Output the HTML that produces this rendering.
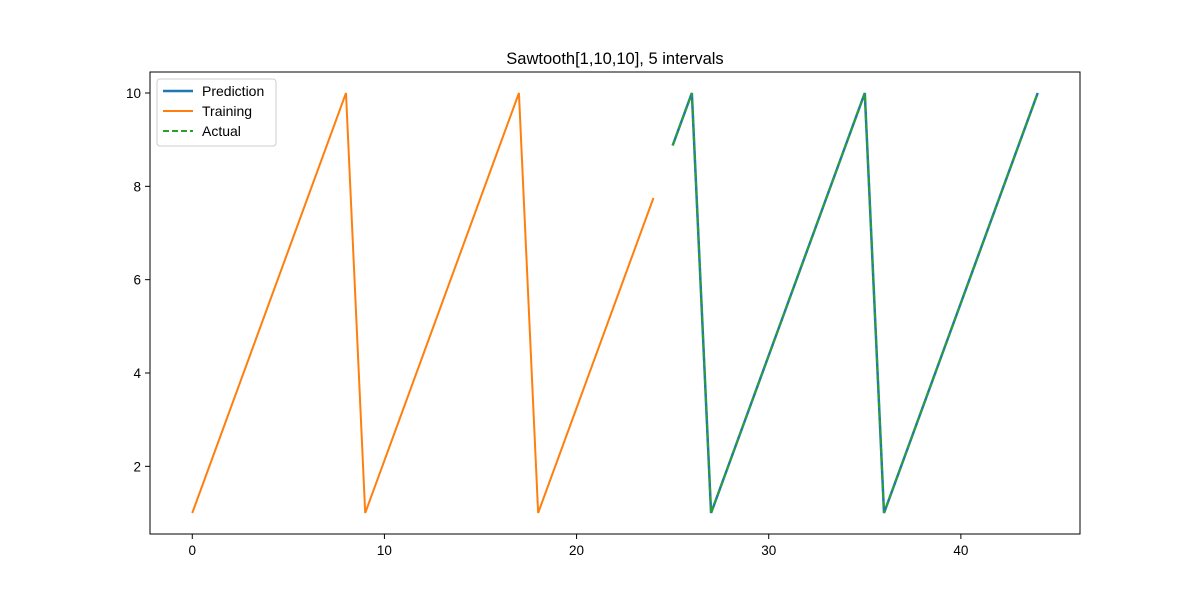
<!DOCTYPE html>
<html><head><meta charset="utf-8"><style>body{margin:0;background:#fff}svg{display:block;font-family:"Liberation Sans","DejaVu Sans",sans-serif}</style></head>
<body>
<svg id="chart" width="1200" height="600">
<rect width="1200" height="600" fill="#fff"/>
<text x="615" y="64" font-size="16.5" text-anchor="middle">Sawtooth[1,10,10], 5 intervals</text>
<g id="marks"></g>
<rect x="150" y="72" width="930" height="462" fill="none" stroke="#000" stroke-width="1"/>
<g id="ticks"></g>
<g>
<rect x="157" y="79" width="119" height="67" rx="3" fill="#fff" fill-opacity="0.8" stroke="#ccc"/>
<line x1="163" y1="91" x2="193" y2="91" stroke="#1f77b4" stroke-width="2.5"/>
<text x="202" y="96" font-size="14">Prediction</text>
<line x1="163" y1="111" x2="193" y2="111" stroke="#ff7f0e" stroke-width="2"/>
<text x="202" y="116" font-size="14">Training</text>
<line x1="163" y1="131" x2="193" y2="131" stroke="#2ca02c" stroke-width="2" stroke-dasharray="6,3"/>
<text x="202" y="136" font-size="14">Actual</text>
</g>
</svg>
<script>
const trainX=[0,1,2,3,4,5,6,7,8,9,10,11,12,13,14,15,16,17,18,19,20,21,22,23,24];
const trainY=[1,2.125,3.25,4.375,5.5,6.625,7.75,8.875,10,1,2.125,3.25,4.375,5.5,6.625,7.75,8.875,10,1,2.125,3.25,4.375,5.5,6.625,7.75];
const testX=[25,26,27,28,29,30,31,32,33,34,35,36,37,38,39,40,41,42,43,44];
const predY=[8.875,10,1,2.125,3.25,4.375,5.5,6.625,7.75,8.875,10,1,2.125,3.25,4.375,5.5,6.625,7.75,8.875,10];
const actualY=[8.875,10,1,2.125,3.25,4.375,5.5,6.625,7.75,8.875,10,1,2.125,3.25,4.375,5.5,6.625,7.75,8.875,10];
const xTicks=[0,10,20,30,40];
const yTicks=[2,4,6,8,10];
const NS="http://www.w3.org/2000/svg";
const xs=v=>150+(v+2.2)/48.4*930;
const ys=v=>534-(v-0.55)/9.9*462;
const marks=document.getElementById('marks'),ticks=document.getElementById('ticks');
function line(xa,ya,color,w,dash,name){
 const p=document.createElementNS(NS,'polyline');
 p.setAttribute('points',xa.map((x,i)=>xs(x)+','+ys(ya[i])).join(' '));
 p.setAttribute('fill','none');p.setAttribute('stroke',color);p.setAttribute('stroke-width',w);
 if(dash)p.setAttribute('stroke-dasharray',dash);
 
 
 marks.appendChild(p);
}
line(testX,predY,'#1f77b4',2.5,null,'prediction-line');
line(trainX,trainY,'#ff7f0e',2,null,'training-line');
line(testX,actualY,'#2ca02c',2,'6,3','actual-line');
xTicks.forEach(t=>{
 const l=document.createElementNS(NS,'line');
 l.setAttribute('x1',xs(t));l.setAttribute('x2',xs(t));l.setAttribute('y1',534);l.setAttribute('y2',539);l.setAttribute('stroke','#000');
 
 
 ticks.appendChild(l);
 const tx=document.createElementNS(NS,'text');
 tx.setAttribute('x',xs(t));tx.setAttribute('y',555);tx.setAttribute('font-size','13.5');tx.setAttribute('text-anchor','middle');
 tx.textContent=t;
 
 
 ticks.appendChild(tx);
});
yTicks.forEach(t=>{
 const l=document.createElementNS(NS,'line');
 l.setAttribute('x1',145);l.setAttribute('x2',150);l.setAttribute('y1',ys(t));l.setAttribute('y2',ys(t));l.setAttribute('stroke','#000');
 
 
 ticks.appendChild(l);
 const tx=document.createElementNS(NS,'text');
 tx.setAttribute('x',141);tx.setAttribute('y',ys(t)+5);tx.setAttribute('font-size','13.5');tx.setAttribute('text-anchor','end');
 tx.textContent=t;
 
 
 ticks.appendChild(tx);
});
</script>
</body></html>
